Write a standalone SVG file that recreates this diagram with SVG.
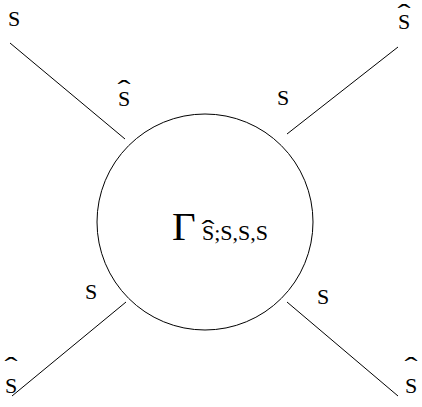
<svg xmlns="http://www.w3.org/2000/svg" width="422" height="407" viewBox="0 0 422 407">
<style>
.l{fill:none;stroke:#000;stroke-width:1}
.t{font-family:"Liberation Serif","Times New Roman",serif;font-size:22px;fill:#000}
.g{font-family:"Liberation Serif","Times New Roman",serif;font-size:41px;fill:#000}
.h{font-family:"Liberation Serif","Times New Roman",serif;font-size:26px;fill:#000;text-anchor:middle}
</style>
<rect width="422" height="407" fill="#fff"/>
<g id="vertex">
<circle class="l" cx="205" cy="222" r="108"/>
<text class="g" x="172" y="240">Γ</text>
<text class="t" x="202" y="240">S;S,S,S</text>
<text class="h" x="208" y="238" transform="translate(208 0) scale(1.5 1) translate(-208 0)">ˆ</text>
</g>
<g id="connectors">
<line class="l" x1="10" y1="43" x2="125" y2="139"/>
<line class="l" x1="398" y1="47" x2="287" y2="134"/>
<line class="l" x1="12" y1="396" x2="126" y2="302"/>
<line class="l" x1="398" y1="396" x2="287" y2="302"/>
</g>
<g id="leg-tl">
<text class="t" x="8" y="26">S</text>
<text class="t" x="118" y="106">S</text>
<text class="h" x="124" y="98" transform="translate(124 0) scale(1.5 1) translate(-124 0)">ˆ</text>
</g>
<g id="leg-tr">
<text class="t" x="398" y="29">S</text>
<text class="h" x="404" y="22" transform="translate(404 0) scale(1.5 1) translate(-404 0)">ˆ</text>
<text class="t" x="277" y="105">S</text>
</g>
<g id="leg-bl">
<text class="t" x="85" y="299">S</text>
<text class="t" x="5" y="393">S</text>
<text class="h" x="11" y="375" transform="translate(11 0) scale(1.5 1) translate(-11 0)">ˆ</text>
</g>
<g id="leg-br">
<text class="t" x="317" y="304">S</text>
<text class="t" x="405" y="393">S</text>
<text class="h" x="411" y="375" transform="translate(411 0) scale(1.5 1) translate(-411 0)">ˆ</text>
</g>
</svg>
